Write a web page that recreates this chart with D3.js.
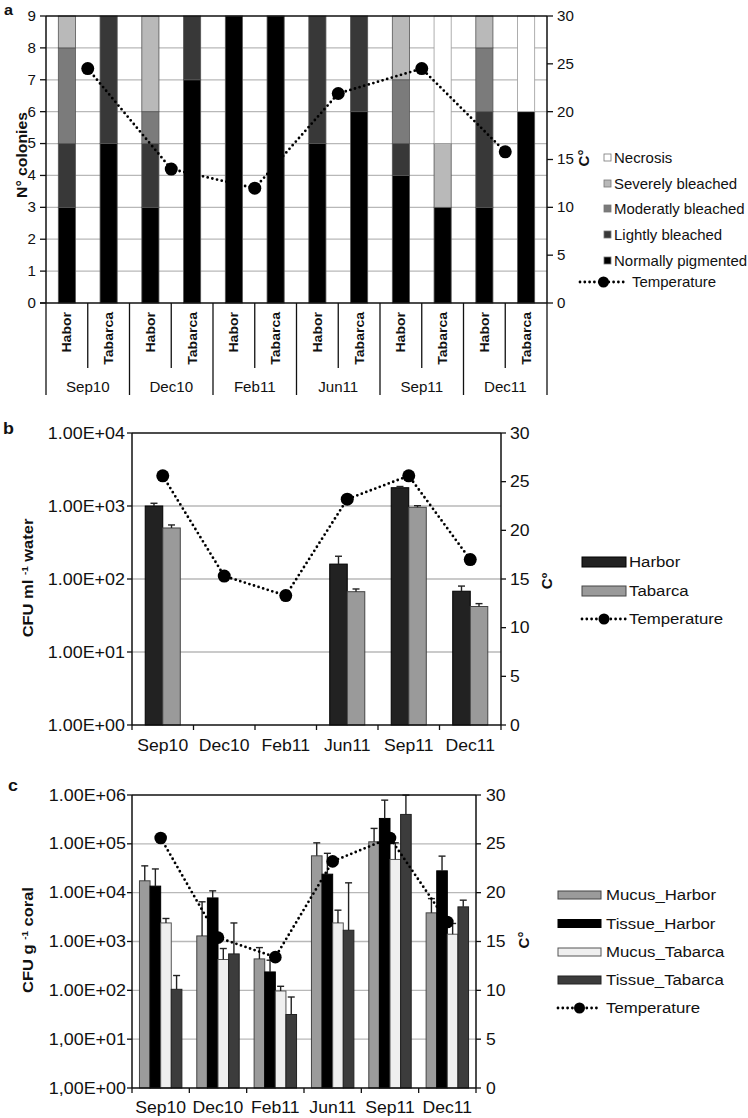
<!DOCTYPE html>
<html><head><meta charset="utf-8">
<script src="https://cdn.jsdelivr.net/npm/d3@7"></script>
<style>
body{margin:0;background:#fff}
svg{display:block}
text{font-family:"Liberation Sans",Arial,Helvetica,sans-serif;fill:#111}
</style>
</head><body>
<svg id="fig" width="748" height="1118"></svg>
<script>
// ---------- DATA ----------
const groups = ["Sep10","Dec10","Feb11","Jun11","Sep11","Dec11"];
const sites = ["Habor","Tabarca"];
const conditions = ["Normally pigmented","Lightly bleached","Moderatly bleached","Severely bleached","Necrosis"];
// panel a: colonies per bar (Sep10 Habor, Sep10 Tabarca, Dec10 Habor, ...)
const normal   = [3,5,3,7,9,9,5,6,4,3,3,6];
const light    = [2,4,2,2,0,0,4,3,1,0,3,0];
const moderate = [3,0,1,0,0,0,0,0,2,0,2,0];
const severe   = [1,0,3,0,0,0,0,0,2,2,1,0];
const necrosis = [0,0,0,0,0,0,0,0,0,4,0,3];
const tempA = [24.5,14.0,12.0,21.9,24.5,15.8];
const colonyTicks = [0,1,2,3,4,5,6,7,8,9];
const tempTicks = [0,5,10,15,20,25,30];

// panel b: CFU per ml water
const waterHarbor    = [1000, null, null, 160, 1780, 68];
const waterHarborErr = [90, null, null, 45, 70, 12];
const waterTabarca    = [500, null, null, 67, 960, 42];
const waterTabarcaErr = [50, null, null, 6, 50, 4];
const tempB = [25.6,15.3,13.3,23.2,25.6,17.0];
const waterTickValues = [1,10,100,1000,10000];
const waterTickLabels = ["1.00E+00","1.00E+01","1.00E+02","1.00E+03","1.00E+04"];

// panel c: CFU per g coral
const mucusHarbor      = [17500, 1300, 440, 56800, 110000, 3860];
const mucusHarborErr   = [17900, 5200, 310, 48000, 97000, 3700];
const tissueHarbor     = [13600, 7800, 238, 23900, 331000, 28000];
const tissueHarborErr  = [17000, 3100, 176, 40000, 454000, 28000];
const mucusTabarca     = [2400, 428, 97, 2400, 47900, 1410];
const mucusTabarcaErr  = [560, 290, 24, 1980, 57000, 930];
const tissueTabarca    = [105, 557, 32, 1700, 400000, 5120];
const tissueTabarcaErr = [96, 1840, 41, 14200, 595000, 1900];
const tempC = [25.6,15.4,13.4,23.2,25.6,17.0];
const coralTickValues = [1,10,100,1000,10000,100000,1000000];
const coralTickLabels = ["1,00E+00","1,00E+01","1.00E+02","1.00E+03","1.00E+04","1.00E+05","1.00E+06"];

// ---------- HELPERS ----------
const svg = d3.select("#fig");
const GRID = "#b8b8b8", AX = "#111";
function txt(g, x, y, s, o = {}) {
  const sx = o.sx || 1.1, rot = o.rot || 0;
  const t = g.append("text")
    .attr("transform", `translate(${x},${y})` + (rot ? ` rotate(${rot})` : "") + ` scale(${sx},1)`)
    .attr("font-size", o.size || 15)
    .attr("font-weight", o.weight || "normal")
    .attr("text-anchor", o.anchor || "start")
    .attr("dy", o.dy == null ? "0.35em" : o.dy);
  t.text(s);
  return t;
}
function line(g, x1, y1, x2, y2, c, w) {
  g.append("line").attr("x1", x1).attr("y1", y1).attr("x2", x2).attr("y2", y2)
    .attr("stroke", c || AX).attr("stroke-width", w || 1.3);
}
function tempLine(g, pts, r) {
  g.append("path").attr("d", d3.line()(pts)).attr("fill", "none")
    .attr("stroke", "#000").attr("stroke-width", 2.8)
    .attr("stroke-dasharray", "0 4.8").attr("stroke-linecap", "round");
  g.selectAll(null).data(pts).enter().append("circle")
    .attr("cx", d => d[0]).attr("cy", d => d[1]).attr("r", r).attr("fill", "#000");
}
function tempLegend(g, x1, x2, y, r) {
  g.append("line").attr("x1", x1).attr("x2", x2).attr("y1", y).attr("y2", y)
    .attr("stroke", "#000").attr("stroke-width", 2.8)
    .attr("stroke-dasharray", "0 4.8").attr("stroke-linecap", "round");
  g.append("circle").attr("cx", (x1 + x2) / 2).attr("cy", y).attr("r", r).attr("fill", "#000");
}

// ================= PANEL A =================
{
  const g = svg.append("g");
  const L = 46, R = 547, T = 16, B = 303;
  const xa = d3.scaleBand().domain(d3.range(12)).range([L, R]);
  const ya = d3.scaleLinear().domain([0, 9]).range([B, T]);
  const ta = d3.scaleLinear().domain([0, 30]).range([B, T]);
  const keys = ["normal","light","moderate","severe","necrosis"];
  const colors = {normal:"#000", light:"#383838", moderate:"#7b7b7b", severe:"#b9b9b9", necrosis:"#fff"};
  const rows = d3.range(12).map(i => ({i, normal:normal[i], light:light[i], moderate:moderate[i], severe:severe[i], necrosis:necrosis[i]}));
  const stack = d3.stack().keys(keys)(rows);

  colonyTicks.slice(1, -1).forEach(v => line(g, L, ya(v), R, ya(v), GRID, 1.3));

  const bw = xa.bandwidth() * 0.41;
  stack.forEach(layer => {
    g.selectAll(null).data(layer.filter(d => d[1] > d[0])).enter().append("rect")
      .attr("x", d => xa(d.data.i) + xa.bandwidth() / 2 - bw / 2)
      .attr("width", bw)
      .attr("y", d => ya(d[1]))
      .attr("height", d => ya(d[0]) - ya(d[1]))
      .attr("fill", colors[layer.key])
      .attr("stroke", layer.key === "necrosis" ? "#9a9a9a" : "#555")
      .attr("stroke-width", 0.8);
  });

  line(g, L, T, R, T, AX, 1.5);
  line(g, L, T, L, B, AX, 1.5);
  line(g, R, T, R, B, AX, 1.5);
  line(g, L - 6, B, R, B, AX, 1.5);
  colonyTicks.forEach(v => {
    line(g, L - 6, ya(v), L, ya(v), AX, 1.3);
    txt(g, 36, ya(v), String(v), {size:14, anchor:"end", sx:1.08});
  });
  tempTicks.forEach(v => {
    line(g, R, ta(v), R + 6, ta(v), AX, 1.3);
    txt(g, 557, ta(v), String(v), {size:14, sx:1.08});
  });

  // category axis below
  d3.range(13).forEach(k => {
    const x = k < 12 ? xa(k) : R;
    line(g, x, B, x, k % 2 === 0 ? 395 : 368, AX, 1.3);
  });
  d3.range(12).forEach(k => {
    txt(g, xa(k) + xa.bandwidth() / 2, 312, sites[k % 2], {size:13, weight:"bold", anchor:"end", rot:-90, sx:1.08});
  });
  groups.forEach((gname, j) => {
    txt(g, xa(2 * j) + xa.bandwidth(), 387, gname, {size:14, anchor:"middle", sx:1.08});
  });

  txt(g, 4, 15, "a", {size:15, weight:"bold", sx:1.08, dy:"0"});
  txt(g, 22, 155, "N° colonies", {size:15, weight:"bold", anchor:"middle", rot:-90, sx:1.05});
  txt(g, 584, 158, "C°", {size:15, weight:"bold", anchor:"middle", rot:-90, sx:1.0});

  // temperature
  const pts = tempA.map((t, j) => [xa(2 * j) + xa.bandwidth(), ta(t)]);
  tempLine(g, pts, 6.5);

  // legend
  const legY = [261, 235, 209, 184, 158];
  keys.forEach((k, i) => {
    g.append("rect").attr("x", 604).attr("y", legY[i] - 4).attr("width", 7).attr("height", 7)
      .attr("fill", colors[k]).attr("stroke", "#777").attr("stroke-width", 0.8);
    txt(g, 614, legY[i], conditions[i], {size:14, sx:1.07});
  });
  tempLegend(g, 580, 627, 282, 5.5);
  txt(g, 632, 282, "Temperature", {size:14, sx:1.07});
}

// ================= PANEL B =================
{
  const g = svg.append("g");
  const L = 132, R = 501, T = 433, B = 725;
  const xb = d3.scaleBand().domain(groups).range([L, R]);
  const yb = d3.scaleLog().domain([1, 1e4]).range([B, T]);
  const tb = d3.scaleLinear().domain([0, 30]).range([B, T]);

  waterTickValues.slice(1, -1).forEach(v => line(g, L, yb(v), R, yb(v), GRID, 1.3));

  const bw = xb.bandwidth() * 0.285;
  const series = [
    {vals: waterHarbor, errs: waterHarborErr, fill:"#222", stroke:"#000", off:-1},
    {vals: waterTabarca, errs: waterTabarcaErr, fill:"#9a9a9a", stroke:"#444", off:0}
  ];
  series.forEach(s => {
    groups.forEach((gn, j) => {
      const v = s.vals[j];
      if (v == null) return;
      const x = xb(gn) + xb.bandwidth() / 2 + s.off * bw;
      g.append("rect").attr("x", x).attr("width", bw).attr("y", yb(v)).attr("height", B - yb(v))
        .attr("fill", s.fill).attr("stroke", s.stroke).attr("stroke-width", 1);
      const top = yb(Math.min(v + s.errs[j], 1e4));
      line(g, x + bw / 2, yb(v), x + bw / 2, top, "#222", 1.4);
      line(g, x + bw / 2 - 3.5, top, x + bw / 2 + 3.5, top, "#222", 1.4);
    });
  });

  line(g, L, T, R, T, AX, 1.5);
  line(g, L, T, L, B, AX, 1.5);
  line(g, R, T, R, B, AX, 1.5);
  line(g, L, B, R, B, AX, 1.5);
  waterTickValues.forEach((v, i) => {
    line(g, L - 5, yb(v), L, yb(v), AX, 1.3);
    txt(g, 125, yb(v), waterTickLabels[i], {size:16, anchor:"end", sx:1.12});
  });
  tempTicks.forEach(v => {
    line(g, R, tb(v), R + 5, tb(v), AX, 1.3);
    txt(g, 510, tb(v), String(v), {size:16, sx:1.1});
  });
  groups.forEach((gn, j) => {
    line(g, xb(gn), B, xb(gn), B + 5, AX, 1.3);
    txt(g, xb(gn) + xb.bandwidth() / 2, 745, gn, {size:16, anchor:"middle", sx:1.1});
  });
  line(g, R, B, R, B + 5, AX, 1.3);

  txt(g, 3, 428, "b", {size:17, weight:"bold", sx:1.05});
  const yt = txt(g, 28, 578, "", {size:15, weight:"bold", anchor:"middle", rot:-90, sx:1.1});
  yt.append("tspan").text("CFU ml ");
  yt.append("tspan").attr("font-size", 9).attr("dy", "-0.6em").text("-1");
  yt.append("tspan").attr("dy", "0.35em").text(" water");
  txt(g, 547, 581, "Cº", {size:15, weight:"bold", anchor:"middle", rot:-90, sx:1.0});

  const pts = tempB.map((t, j) => [xb(groups[j]) + xb.bandwidth() / 2, tb(t)]);
  tempLine(g, pts, 6.5);

  // legend
  g.append("rect").attr("x", 582).attr("y", 557).attr("width", 44).attr("height", 10)
    .attr("fill", "#222").attr("stroke", "#000");
  txt(g, 629, 562, "Harbor", {size:15, sx:1.12});
  g.append("rect").attr("x", 582).attr("y", 586).attr("width", 44).attr("height", 10)
    .attr("fill", "#9a9a9a").attr("stroke", "#444");
  txt(g, 629, 591, "Tabarca", {size:15, sx:1.12});
  tempLegend(g, 582, 626, 619, 5.5);
  txt(g, 629, 619, "Temperature", {size:15, sx:1.12});
}

// ================= PANEL C =================
{
  const g = svg.append("g");
  const L = 132, R = 476, T = 795, B = 1088;
  const xc = d3.scaleBand().domain(groups).range([L, R]);
  const yc = d3.scaleLog().domain([1, 1e6]).range([B, T]);
  const tc = d3.scaleLinear().domain([0, 30]).range([B, T]);

  coralTickValues.slice(1, -1).forEach(v => line(g, L, yc(v), R, yc(v), GRID, 1.3));

  const bw = xc.bandwidth() * 0.185;
  const series = [
    {name:"Mucus_Harbor", vals:mucusHarbor, errs:mucusHarborErr, fill:"#9b9b9b", stroke:"#444"},
    {name:"Tissue_Harbor", vals:tissueHarbor, errs:tissueHarborErr, fill:"#000", stroke:"#000"},
    {name:"Mucus_Tabarca", vals:mucusTabarca, errs:mucusTabarcaErr, fill:"#efefef", stroke:"#555"},
    {name:"Tissue_Tabarca", vals:tissueTabarca, errs:tissueTabarcaErr, fill:"#3c3c3c", stroke:"#222"}
  ];
  series.forEach((s, si) => {
    groups.forEach((gn, j) => {
      const v = s.vals[j];
      const x = xc(gn) + xc.bandwidth() / 2 + (si - 2) * bw;
      g.append("rect").attr("x", x).attr("width", bw).attr("y", yc(v)).attr("height", B - yc(v))
        .attr("fill", s.fill).attr("stroke", s.stroke).attr("stroke-width", 1);
      const top = yc(Math.min(v + s.errs[j], 1e6));
      line(g, x + bw / 2, yc(v), x + bw / 2, top, "#222", 1.4);
      line(g, x + bw / 2 - 3.5, top, x + bw / 2 + 3.5, top, "#222", 1.4);
    });
  });

  line(g, L, T, R, T, AX, 1.5);
  line(g, L, T, L, B, AX, 1.5);
  line(g, R, T, R, B, AX, 1.5);
  line(g, L, B, R, B, AX, 1.5);
  coralTickValues.forEach((v, i) => {
    line(g, L - 5, yc(v), L, yc(v), AX, 1.3);
    txt(g, 126, yc(v), coralTickLabels[i], {size:16, anchor:"end", sx:1.12});
  });
  tempTicks.forEach(v => {
    line(g, R, tc(v), R + 5, tc(v), AX, 1.3);
    txt(g, 486, tc(v), String(v), {size:16, sx:1.1});
  });
  groups.forEach((gn, j) => {
    line(g, xc(gn), B, xc(gn), B + 5, AX, 1.3);
    txt(g, xc(gn) + xc.bandwidth() / 2, 1107, gn, {size:16, anchor:"middle", sx:1.1});
  });
  line(g, R, B, R, B + 5, AX, 1.3);

  txt(g, 8, 785, "c", {size:17, weight:"bold", sx:1.05});
  const yt = txt(g, 28, 940, "", {size:15, weight:"bold", anchor:"middle", rot:-90, sx:1.1});
  yt.append("tspan").text("CFU g ");
  yt.append("tspan").attr("font-size", 9).attr("dy", "-0.6em").text("-1");
  yt.append("tspan").attr("dy", "0.35em").text(" coral");
  txt(g, 524, 940, "C°", {size:15, weight:"bold", anchor:"middle", rot:-90, sx:1.0});

  const pts = tempC.map((t, j) => [xc(groups[j]) + xc.bandwidth() / 2, tc(t)]);
  tempLine(g, pts, 6.3);

  // legend
  const legY = [895, 923.5, 952, 980];
  series.forEach((s, i) => {
    g.append("rect").attr("x", 558).attr("y", legY[i] - 4).attr("width", 43).attr("height", 8)
      .attr("fill", s.fill).attr("stroke", s.stroke);
    txt(g, 606, legY[i], s.name, {size:15, sx:1.12});
  });
  tempLegend(g, 558, 601, 1008, 5.5);
  txt(g, 606, 1008, "Temperature", {size:15, sx:1.12});
}
</script>
</body></html>
